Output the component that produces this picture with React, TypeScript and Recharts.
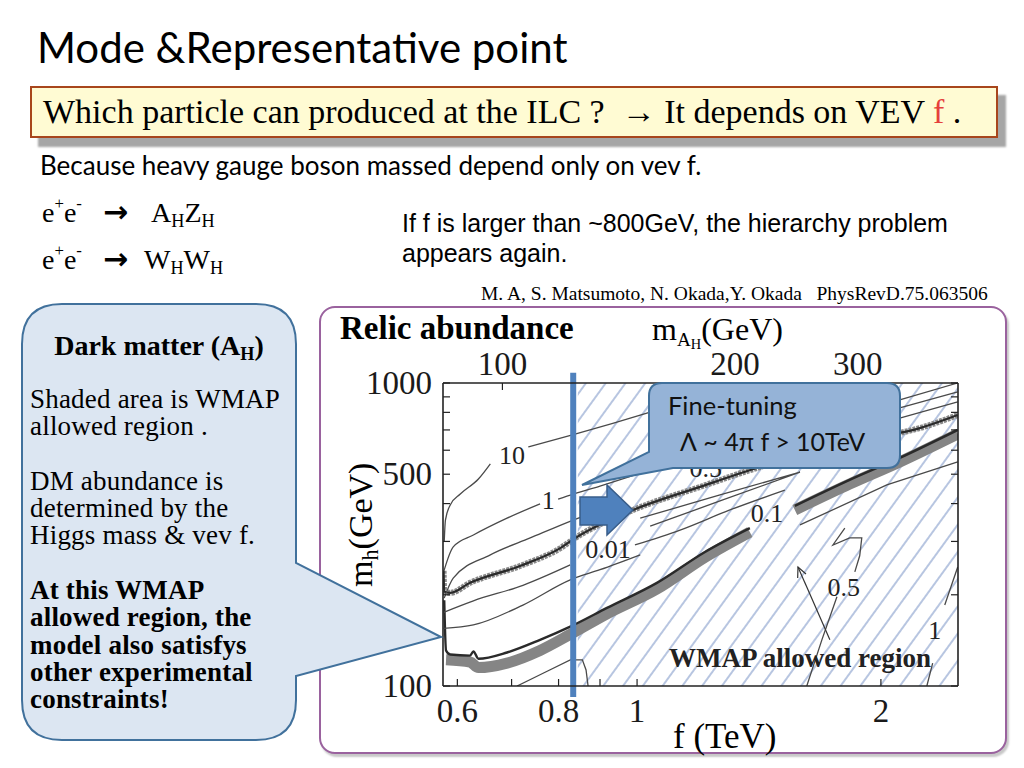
import React from 'react';
import { ComposedChart, Line, XAxis, YAxis, ReferenceArea, ReferenceLine, ReferenceDot } from 'recharts';

type Pt = { f: number; m: number | null };

// axis ticks
const bottomTicks = [0.6, 0.7, 0.8, 0.9, 1, 2];
const bottomLabels = ['0.6', '', '0.8', '', '1', '2'];
const leftTicks = [100, 200, 300, 400, 500, 600, 700, 800, 900, 1000];
const leftLabels = ['100', '', '', '', '500', '', '', '', '', '1000'];
const topTicks = [0.682, 1.321, 1.873]; // f where m_AH = 100, 200, 300 GeV
const topLabels = ['100', '200', '300'];

// contours (f in TeV, m_h in GeV)
const contour10: Pt[] = [
  { f: 0.578, m: 300 }, { f: 0.580, m: 353 }, { f: 0.588, m: 396 }, { f: 0.605, m: 430 },
  { f: 0.637, m: 482 }, { f: 0.659, m: 541 }, { f: 0.70, m: null }, { f: 0.734, m: 615 },
  { f: 0.832, m: 674 }, { f: 1.038, m: 802 }, { f: 1.34, m: 1000 },
];
const contour1: Pt[] = [
  { f: 0.577, m: 238 }, { f: 0.593, m: 288 }, { f: 0.628, m: 315 }, { f: 0.691, m: 358 },
  { f: 0.759, m: 399 }, { f: 0.78, m: null }, { f: 0.799, m: 414 }, { f: 0.834, m: 430 },
  { f: 0.900, m: 457 }, { f: 1.038, m: 516 }, { f: 1.266, m: 601 },
];
const contourB2: Pt[] = [
  { f: 0.578, m: 195 }, { f: 0.593, m: 227 }, { f: 0.659, m: 271 }, { f: 0.738, m: 308 },
  { f: 0.834, m: 353 }, { f: 0.900, m: 381 },
];
const bandUpper: Pt[] = [
  { f: 0.577, m: 240 }, { f: 0.578, m: 205 }, { f: 0.588, m: 203 }, { f: 0.622, m: 219 },
  { f: 0.717, m: 249 }, { f: 0.804, m: 285 }, { f: 0.839, m: 308 }, { f: 0.989, m: 381 },
  { f: 1.196, m: 454 }, { f: 1.418, m: 528 }, { f: 1.681, m: 601 }, { f: 1.993, m: 663 },
  { f: 2.234, m: 710 }, { f: 2.488, m: 784 },
];
const bandLowerEdge: Pt[] = [
  { f: 0.578, m: 192 }, { f: 0.581, m: 131 }, { f: 0.588, m: 127 }, { f: 0.622, m: 126 },
  { f: 0.628, m: 130 }, { f: 0.637, m: 123 }, { f: 0.691, m: 129 }, { f: 0.759, m: 142 },
  { f: 0.827, m: 157 }, { f: 0.918, m: 181 }, { f: 1.058, m: 219 }, { f: 1.213, m: 277 },
  { f: 1.378, m: 332 }, { f: 1.47, m: null }, { f: 1.566, m: 393 }, { f: 1.830, m: 479 },
  { f: 2.110, m: 566 }, { f: 2.488, m: 700 },
];
const bandLowerFill: Pt[] = [
  { f: 0.581, m: 122 }, { f: 0.622, m: 120 }, { f: 0.637, m: 115 }, { f: 0.691, m: 119 },
  { f: 0.759, m: 131 }, { f: 0.827, m: 148 }, { f: 0.918, m: 173 }, { f: 1.058, m: 209 },
  { f: 1.213, m: 266 }, { f: 1.378, m: 322 }, { f: 1.47, m: null }, { f: 1.566, m: 381 },
  { f: 1.830, m: 464 }, { f: 2.110, m: 549 }, { f: 2.488, m: 679 },
];
const contour001: Pt[] = [
  { f: 0.577, m: 175 }, { f: 0.628, m: 191 }, { f: 0.723, m: 215 }, { f: 0.827, m: 251 },
  { f: 0.9, m: null }, { f: 0.994, m: 292 }, { f: 1.130, m: 327 }, { f: 1.302, m: 381 },
  { f: 1.522, m: 443 },
];
const contourD: Pt[] = [
  { f: 0.577, m: 155 }, { f: 0.628, m: 159 }, { f: 0.723, m: 185 }, { f: 0.827, m: 224 },
  { f: 0.900, m: 242 }, { f: 1.009, m: 271 },
];
const loop05: Pt[] = [
  { f: 1.009, m: 358 }, { f: 1.266, m: 427 }, { f: 1.589, m: 508 }, { f: 1.266, m: 408 },
  { f: 1.038, m: 337 },
];
const upperE: Pt[] = [{ f: 1.589, m: 700 }, { f: 2.110, m: 879 }, { f: 2.488, m: 1000 }];
const upperF: Pt[] = [{ f: 1.589, m: 668 }, { f: 2.110, m: 827 }, { f: 2.488, m: 934 }];
const upperG: Pt[] = [{ f: 1.589, m: 620 }, { f: 2.110, m: 766 }, { f: 2.488, m: 866 }];
const lineH: Pt[] = [{ f: 1.589, m: 340 }, { f: 2.034, m: 461 }, { f: 2.488, m: 549 }];
const squiggle: Pt[] = [
  { f: 1.805, m: 332 }, { f: 1.745, m: 292 }, { f: 1.830, m: 308 }, { f: 1.894, m: 308 },
  { f: 1.883, m: 269 }, { f: 1.857, m: 238 },
];
const contour05low: Pt[] = [{ f: 1.620, m: 100 }, { f: 1.691, m: 142 }, { f: 1.765, m: 197 }];
const contour1right: Pt[] = [
  { f: 2.279, m: 100 }, { f: 2.317, m: 119 }, { f: 2.36, m: null }, { f: 2.398, m: 185 },
  { f: 2.488, m: 247 },
];
const bottomLoop: Pt[] = [
  { f: 0.711, m: 100 }, { f: 0.770, m: 111 }, { f: 0.827, m: 122 }, { f: 0.856, m: 122 },
  { f: 0.865, m: 113 }, { f: 0.870, m: 100 },
];
const pointer: Pt[] = [{ f: 1.730, m: 142 }, { f: 1.580, m: 247 }];

const contourLabels = [
  { f: 0.701, m: 579, text: '10' },
  { f: 0.777, m: 411, text: '1' },
  { f: 0.921, m: 283, text: '0.01' },
  { f: 1.216, m: 524, text: '0.5' },
  { f: 1.447, m: 372, text: '0.1' },
  { f: 1.800, m: 212, text: '0.5' },
  { f: 2.330, m: 153, text: '1' },
];
const fineTuningF = 0.834;

const serif = '"Liberation Serif", "Times New Roman", serif';
const sans = 'Lato, "Open Sans", sans-serif';
const tickFont = { fontFamily: serif, fontSize: 33, fill: '#1a1a1a' };

const LeftTick = (props: any) => {
  const { x, y, index } = props;
  const label = leftLabels[index];
  return (
    <g>
      <line x1={x} y1={y} x2={x + 7} y2={y} stroke="#222" strokeWidth={1.2} />
      {label ? <text x={x - 11} y={y} textAnchor="end" dominantBaseline="central" style={tickFont}>{label}</text> : null}
    </g>
  );
};
const RightTick = (props: any) => {
  const { x, y } = props;
  return <line x1={x} y1={y} x2={x - 7} y2={y} stroke="#222" strokeWidth={1.2} />;
};
const BottomTick = (props: any) => {
  const { x, y, index } = props;
  const label = bottomLabels[index];
  return (
    <g>
      <line x1={x} y1={y} x2={x} y2={y - 7} stroke="#222" strokeWidth={1.2} />
      {label ? <text x={x} y={y + 25} textAnchor="middle" dominantBaseline="central" style={tickFont}>{label}</text> : null}
    </g>
  );
};
const TopTick = (props: any) => {
  const { x, y, index } = props;
  return (
    <g>
      <line x1={x} y1={y} x2={x} y2={y + 7} stroke="#222" strokeWidth={1.2} />
      <text x={x} y={y - 19} textAnchor="middle" dominantBaseline="central" style={tickFont}>{topLabels[index]}</text>
    </g>
  );
};
const ArrowHead = (props: any) => {
  const { cx, cy, index } = props;
  if (index !== 1) return <g key={index} />;
  return <path key={index} d={`M${cx - 0.3} ${cy + 11} L${cx} ${cy} L${cx + 8} ${cy + 7}`} fill="none" stroke="#333" strokeWidth={1.2} />;
};

const thin = { stroke: '#4a4a4a', strokeWidth: 1.3 };
const ax = { xAxisId: 'bottom', yAxisId: 'left' };

const RelicChart: React.FC = () => (
  <ComposedChart width={690} height={460} margin={{ top: 43, right: 32, bottom: 34, left: 63 }}>
    <defs>
      <pattern id="hatch" patternUnits="userSpaceOnUse" width={16} height={16} patternTransform="rotate(36)">
        <line x1={8} y1={0} x2={8} y2={16} stroke="#3f66ad" strokeWidth={0.75} />
      </pattern>
    </defs>
    <XAxis xAxisId="bottom" dataKey="f" type="number" scale="log" domain={[0.576, 2.49]} allowDataOverflow
      ticks={bottomTicks} interval={0} tickSize={0} tickMargin={0} tick={<BottomTick />} height={40}
      axisLine={{ stroke: '#222', strokeWidth: 1.6 }} tickLine={false} />
    <XAxis xAxisId="top" orientation="top" dataKey="f" type="number" scale="log" domain={[0.576, 2.49]} allowDataOverflow
      ticks={topTicks} interval={0} tickSize={0} tickMargin={0} tick={<TopTick />} height={40}
      axisLine={{ stroke: '#222', strokeWidth: 1.6 }} tickLine={false} />
    <YAxis yAxisId="left" type="number" scale="log" domain={[100, 1000]} allowDataOverflow
      ticks={leftTicks} interval={0} tickSize={0} tickMargin={0} tick={<LeftTick />} width={60}
      axisLine={{ stroke: '#222', strokeWidth: 1.6 }} tickLine={false} />
    <YAxis yAxisId="right" orientation="right" type="number" scale="log" domain={[100, 1000]} allowDataOverflow
      ticks={leftTicks} interval={0} tickSize={0} tickMargin={0} tick={<RightTick />} width={20}
      axisLine={{ stroke: '#222', strokeWidth: 1.6 }} tickLine={false} />

    <ReferenceArea {...ax} x1={0.845} x2={2.49} y1={100} y2={1000} fill="url(#hatch)" fillOpacity={1} stroke="none" ifOverflow="hidden" />

    <Line {...ax} data={bandLowerFill} dataKey="m" type="monotone" stroke="#858585" strokeWidth={11} dot={false} activeDot={false} isAnimationActive={false} />
    <Line {...ax} data={bandLowerEdge} dataKey="m" type="monotone" stroke="#2a2a2a" strokeWidth={2.4} dot={false} activeDot={false} isAnimationActive={false} />
    <Line {...ax} data={bandUpper} dataKey="m" type="monotone" stroke="#8a8a8a" strokeWidth={6} strokeDasharray="3 1" dot={false} activeDot={false} isAnimationActive={false} />
    <Line {...ax} data={bandUpper} dataKey="m" type="monotone" stroke="#2a2a2a" strokeWidth={2.2} dot={false} activeDot={false} isAnimationActive={false} />
    <Line {...ax} data={contour10} dataKey="m" type="monotone" {...thin} dot={false} activeDot={false} isAnimationActive={false} />
    <Line {...ax} data={contour1} dataKey="m" type="monotone" {...thin} dot={false} activeDot={false} isAnimationActive={false} />
    <Line {...ax} data={contourB2} dataKey="m" type="monotone" {...thin} dot={false} activeDot={false} isAnimationActive={false} />
    <Line {...ax} data={contour001} dataKey="m" type="monotone" {...thin} dot={false} activeDot={false} isAnimationActive={false} />
    <Line {...ax} data={contourD} dataKey="m" type="monotone" {...thin} dot={false} activeDot={false} isAnimationActive={false} />
    <Line {...ax} data={loop05} dataKey="m" type="linear" {...thin} dot={false} activeDot={false} isAnimationActive={false} />
    <Line {...ax} data={upperE} dataKey="m" type="linear" {...thin} dot={false} activeDot={false} isAnimationActive={false} />
    <Line {...ax} data={upperF} dataKey="m" type="linear" {...thin} dot={false} activeDot={false} isAnimationActive={false} />
    <Line {...ax} data={upperG} dataKey="m" type="linear" {...thin} dot={false} activeDot={false} isAnimationActive={false} />
    <Line {...ax} data={lineH} dataKey="m" type="linear" {...thin} dot={false} activeDot={false} isAnimationActive={false} />
    <Line {...ax} data={squiggle} dataKey="m" type="linear" {...thin} dot={false} activeDot={false} isAnimationActive={false} />
    <Line {...ax} data={contour05low} dataKey="m" type="linear" {...thin} dot={false} activeDot={false} isAnimationActive={false} />
    <Line {...ax} data={contour1right} dataKey="m" type="linear" {...thin} dot={false} activeDot={false} isAnimationActive={false} />
    <Line {...ax} data={bottomLoop} dataKey="m" type="linear" {...thin} dot={false} activeDot={false} isAnimationActive={false} />
    <Line {...ax} data={pointer} dataKey="m" type="linear" stroke="#333" strokeWidth={1.2} dot={<ArrowHead />} activeDot={false} isAnimationActive={false} />

    {contourLabels.map((l, i) => (
      <ReferenceDot key={i} {...ax} x={l.f} y={l.m} r={0} fill="none" stroke="none" ifOverflow="visible"
        label={{ value: l.text, position: 'center', fontFamily: serif, fontSize: 26, fill: '#222' }} />
    ))}
    <ReferenceDot {...ax} x={1.589} y={124.6} r={0} fill="none" stroke="none" ifOverflow="visible"
      label={{ value: 'WMAP allowed region', position: 'center', fontFamily: serif, fontSize: 27, fontWeight: 'bold', fill: '#222' }} />

    <ReferenceLine {...ax} segment={[{ x: fineTuningF, y: 92 }, { x: fineTuningF, y: 1080 }]} stroke="#4f81bd" strokeWidth={6} ifOverflow="visible" />
  </ComposedChart>
);

const abs = (left: number, top: number, extra: React.CSSProperties = {}): React.CSSProperties => ({
  position: 'absolute', left, top, whiteSpace: 'nowrap', ...extra,
});
const sub = (t: string) => <span style={{ fontSize: '0.65em', verticalAlign: '-0.25em' }}>{t}</span>;
const sup = (t: string) => <span style={{ fontSize: '0.6em', position: 'relative', top: '-0.75em' }}>{t}</span>;
const arrowFont: React.CSSProperties = { fontFamily: '"DejaVu Sans", sans-serif', fontSize: 30, fontWeight: 'bold', lineHeight: '34px' };

export default function App() {
  return (
    <div style={{ position: 'absolute', left: 0, top: 0, width: 1024, height: 768, background: '#fff', overflow: 'hidden', color: '#000' }}>
      <div style={abs(37, 22, { fontFamily: sans, fontSize: 42, lineHeight: '50px' })}>Mode &amp;Representative point</div>

      <div style={{ position: 'absolute', left: 30, top: 86, width: 964, height: 48, background: '#fffbd3', border: '2px solid #a8461c', boxShadow: '8px 9px 2px #a6a6a6' }} />
      <div style={abs(43, 92, { fontFamily: serif, fontSize: 34, lineHeight: '40px' })}>
        Which particle can produced at the ILC ?&nbsp; → It depends on VEV <span style={{ color: '#e5403c' }}>f</span> .
      </div>

      <div style={abs(40, 150, { fontFamily: sans, fontSize: 26, lineHeight: '30px' })}>Because heavy gauge boson massed depend only on vev f.</div>

      <div style={abs(42, 196, { fontFamily: serif, fontSize: 28, lineHeight: '34px' })}>e{sup('+')}e{sup('-')}</div>
      <div style={abs(103, 195, arrowFont)}>→</div>
      <div style={abs(151, 196, { fontFamily: serif, fontSize: 28, lineHeight: '34px' })}>A{sub('H')}Z{sub('H')}</div>
      <div style={abs(42, 243, { fontFamily: serif, fontSize: 28, lineHeight: '34px' })}>e{sup('+')}e{sup('-')}</div>
      <div style={abs(103, 242, arrowFont)}>→</div>
      <div style={abs(144, 243, { fontFamily: serif, fontSize: 28, lineHeight: '34px' })}>W{sub('H')}W{sub('H')}</div>

      <div style={abs(402, 208, { fontFamily: '"Liberation Sans", Arial, sans-serif', fontSize: 25, lineHeight: '30px' })}>
        If f is larger than ~800GeV, the hierarchy problem<br />appears again.
      </div>
      <div style={abs(481, 283, { fontFamily: serif, fontSize: 19.5, lineHeight: '22px' })}>M. A, S. Matsumoto, N. Okada,Y. Okada&nbsp;&nbsp; PhysRevD.75.063506</div>

      {/* plot panel */}
      <div style={{ position: 'absolute', left: 319, top: 306, width: 684, height: 444, border: '2px solid #9a629e', borderRadius: 16, boxShadow: '2px 3px 2px #c8c8c8', background: '#fff' }} />
      <div style={{ position: 'absolute', left: 320, top: 300 }}>
        <RelicChart />
      </div>
      <div style={abs(340, 309, { fontFamily: serif, fontSize: 33, fontWeight: 'bold', lineHeight: '38px' })}>Relic abundance</div>
      <div style={abs(652, 310, { fontFamily: serif, fontSize: 32, lineHeight: '38px' })}>
        m<span style={{ fontSize: '0.6em', verticalAlign: '-0.3em' }}>A<span style={{ fontSize: '0.75em', verticalAlign: '-0.2em' }}>H</span></span>(GeV)
      </div>
      <div style={abs(266, 500, { width: 200, textAlign: 'center', transform: 'rotate(-90deg)', fontFamily: serif, fontSize: 34, lineHeight: '40px' })}>
        m{sub('h')}(GeV)
      </div>
      <div style={abs(673, 717, { fontFamily: serif, fontSize: 35, lineHeight: '40px' })}>f (TeV)</div>

      {/* callouts and block arrow */}
      <svg width={1024} height={768} style={{ position: 'absolute', left: 0, top: 0, pointerEvents: 'none' }}>
        <path d="M62 304 H256 Q296 304 296 344 V563 L441 637 L296 676 V700 Q296 740 256 740 H62 Q22 740 22 700 V344 Q22 304 62 304 Z"
          fill="#dce6f2" stroke="#41719c" strokeWidth={2} />
        <path d="M662 383 H887 Q900 383 900 396 V455 Q900 468 887 468 H673 L582 485 L649 452 V396 Q649 383 662 383 Z"
          fill="#95b3d7" stroke="#41719c" strokeWidth={2} />
        <path d="M580 497 H607 V485 L633 510 L607 535 V525 H580 Z" fill="#4f81bd" stroke="#385d8a" strokeWidth={1.5} />
        <text x={668} y={415} fontFamily={sans} fontSize={25.5} fill="#111">Fine-tuning</text>
        <text x={680} y={451} fontFamily={sans} fontSize={25} fill="#111">Λ ~ 4π f &gt; 10TeV</text>
      </svg>

      <div style={abs(22, 331, { width: 274, textAlign: 'center', fontFamily: serif, fontSize: 28, fontWeight: 'bold', lineHeight: '30px' })}>
        Dark matter (A{sub('H')})
      </div>
      <div style={abs(30, 386, { fontFamily: serif, fontSize: 27, letterSpacing: '0.2px', lineHeight: '27.3px' })}>
        Shaded area is WMAP<br />allowed region .<br /><br />DM abundance is<br />determined by the<br />Higgs mass &amp; vev f.<br /><br />
        <b>At this WMAP<br />allowed region, the<br />model also satisfys<br />other experimental<br />constraints!</b>
      </div>
    </div>
  );
}
